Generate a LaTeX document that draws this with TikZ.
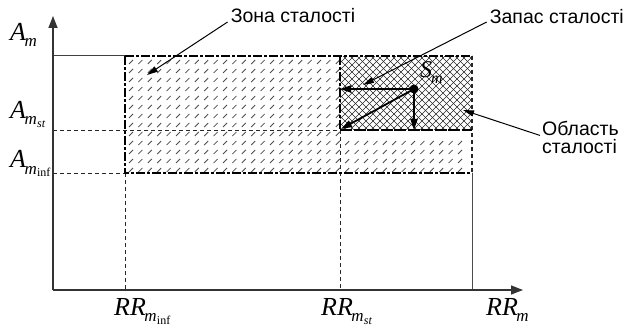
\documentclass[tikz,border=0pt]{standalone}
\usepackage{fontspec}
\setmainfont{Liberation Serif}
\newfontfamily\sansf{Liberation Sans}
\usetikzlibrary{arrows.meta,calc}
\newcommand{\Lbl}[2]{\textit{#1}\kern-1.5pt{\fontsize{17}{17}\selectfont\raisebox{-6pt}{\textit{m}\kern0.2pt{\fontsize{12}{12}\selectfont\raisebox{-3pt}{#2}}}}}
\begin{document}
\begin{tikzpicture}[x=1pt,y=-1pt,
  axis/.style={line width=1.4pt, draw=black!80, -{Triangle[length=12pt,width=9pt]}},
  thindash/.style={line width=0.8pt, dash pattern=on 4pt off 3pt, draw=black!85},
  border/.style={line width=1.8pt, dash pattern=on 9pt off 2pt on 3pt off 2pt},
  note/.style={font=\sansf\fontsize{19.5}{18}\selectfont, inner sep=0pt},
  mathlbl/.style={font=\fontsize{26}{26}\selectfont, inner sep=0pt, anchor=base west},
  pointer/.style={line width=1pt, -{Triangle[length=11pt,width=6pt]}},
  vec/.style={line width=1.8pt, -{Triangle[length=11pt,width=7pt]}},
  hatch/.style={line width=0.8pt, draw=black!70},
  cross/.style={line width=0.6pt, draw=black!85},
]
\useasboundingbox (0,0) rectangle (627,326);
% key coordinates
\coordinate (O) at (53,290);
\coordinate (yend) at (53,16);
\coordinate (xend) at (523,290);
\coordinate (topL) at (53,56);
\coordinate (zTL) at (125,56);
\coordinate (zTR) at (472,56);
\coordinate (zBL) at (125,173);
\coordinate (zBR) at (472,173);
\coordinate (cTL) at (340,56);
\coordinate (cBL) at (340,130);
\coordinate (cBR) at (472,130);
\coordinate (stL) at (53,130);
\coordinate (infL) at (53,173);
\coordinate (xinf) at (125,290);
\coordinate (xst) at (340,290);
\coordinate (xm) at (472,290);

% hatch of the zone (short slashes)
\foreach \i in {0,...,22}{
  \foreach \j in {0,...,12}{
    \draw[hatch] ({131+9.4*\i-2},{62+9*\j+2}) -- ++(4,-4);
  }
}
\foreach \i in {23,...,35}{
  \foreach \j in {9,...,12}{
    \draw[hatch] ({131+9.4*\i-2},{62+9*\j+2}) -- ++(4,-4);
  }
}
% cross hatch of the region
\begin{scope}
  \clip (cTL) rectangle (cBR);
  \foreach \k in {0,...,30}{
    \draw[cross] ({266+7*\k},130) -- ++(74,-74);
    \draw[cross] ({266+7*\k},56) -- ++(74,74);
  }
\end{scope}

% thin guide lines
\draw[thindash] (stL) -- (cBL);
\draw[thindash] (infL) -- (zBL);
\draw[thindash] (zBL) -- (xinf);
\draw[thindash] (cBL) -- (xst);
\draw[thindash, line width=1.2pt] (zTR) -- (zBR);
\draw[line width=1pt, draw=black!75] (topL) -- (zTL);
\draw[line width=1pt, draw=black!70] (zBR) -- (xm);

% thick borders
\draw[border, line width=1.5pt] (zTL) -- (zTR);
\draw[border] (zTL) -- (zBL) -- (zBR);
\draw[border] (cTL) -- (cBL);
\draw[line width=1.8pt, dash pattern=on 12pt off 1.5pt] (cBL) -- (cBR);

% axes
\draw[axis] (O) -- (yend);
\draw[axis] (O) -- (xend);

% axis labels
\node[mathlbl] (am) at (10,41) {\Lbl{A}{}};
\node[mathlbl] (amst) at (10,119) {\Lbl{A}{\textit{st}}};
\node[mathlbl] (aminf) at (10,168) {\Lbl{A}{inf}};
\node[mathlbl] (rrinf) at (114,315) {\Lbl{RR}{inf}};
\node[mathlbl] (rrst) at (321,315) {\Lbl{RR}{\textit{st}}};
\node[mathlbl] (rrm) at (486,315) {\Lbl{RR}{}};

% stability point and vectors
\node[circle, fill=black, inner sep=0pt, minimum size=9pt] (P) at (414,89) {};
\coordinate (hTip) at (340,89);
\coordinate (vTip) at (414,130);
\coordinate (dTip) at (341,129);
\draw[vec] (P.center) -- (hTip);
\draw[vec] (P.center) -- (vTip);
\draw[vec] (P.center) -- (dTip);
\node[mathlbl, font=\fontsize{24}{24}\selectfont] (sm) at (420,78) {\textit{S}\kern-1pt{\fontsize{16}{16}\selectfont\raisebox{-6pt}{\textit{m}}}};

% annotations
\node[note, anchor=base] (zona) at (293,23) {Зона сталості};
\node[note, anchor=base east] (zapas) at (624,24) {Запас сталості};
\node[note, anchor=north west, align=left] (obl) at (542,121) {Область\\сталості};
\coordinate (zonaTip) at (147,75);
\coordinate (zapasTip) at (363,85);
\coordinate (oblTip) at (463,110);
\draw[pointer] ($(zona.base west)+(-3,-1)$) -- (zonaTip);
\draw[pointer] ($(zapas.base west)+(-3,-2)$) -- (zapasTip);
\draw[pointer] ($(obl.west)+(-2,-2)$) -- (oblTip);
\end{tikzpicture}
\end{document}
